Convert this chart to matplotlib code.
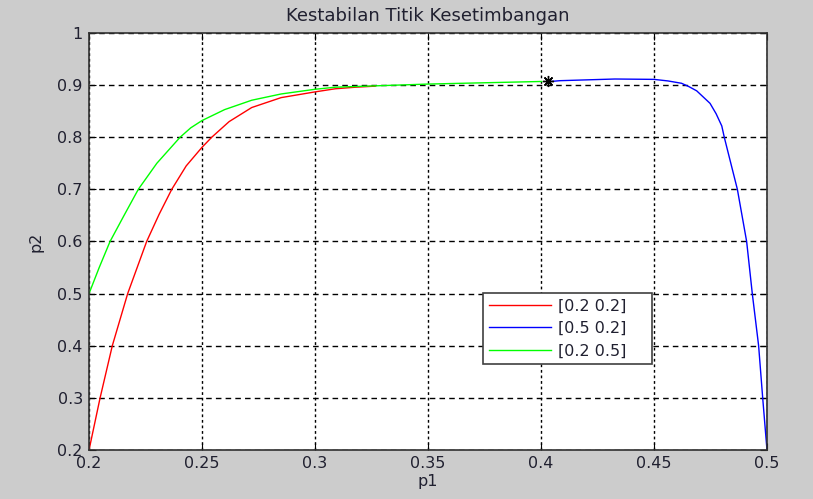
import matplotlib.pyplot as plt

# trajectories
red_p1 = [0.2, 0.2049, 0.2103, 0.2171, 0.2255, 0.231, 0.2366, 0.243, 0.25, 0.2543, 0.262, 0.272, 0.285, 0.3, 0.309, 0.318, 0.3266]
red_p2 = [0.2, 0.3, 0.4, 0.5, 0.6, 0.652, 0.7, 0.745, 0.7807, 0.8, 0.83, 0.857, 0.876, 0.887, 0.893, 0.896, 0.898]

blue_p1 = [0.5, 0.4981, 0.4963, 0.4935, 0.491, 0.4869, 0.4811, 0.48, 0.4775, 0.4748, 0.4689, 0.4655, 0.4622, 0.4562, 0.45, 0.4327, 0.4084, 0.4033]
blue_p2 = [0.2, 0.3, 0.4, 0.5, 0.6, 0.7, 0.8, 0.8216, 0.845, 0.865, 0.889, 0.897, 0.9035, 0.908, 0.911, 0.9117, 0.9085, 0.9066]

green_p1 = [0.2, 0.2045, 0.2093, 0.2155, 0.2218, 0.23, 0.2403, 0.245, 0.25, 0.26, 0.272, 0.285, 0.3, 0.309, 0.35, 0.4003]
green_p2 = [0.5, 0.55, 0.6, 0.65, 0.7, 0.75, 0.8, 0.818, 0.832, 0.853, 0.871, 0.883, 0.892, 0.896, 0.902, 0.907]

eq_p1, eq_p2 = 0.4033, 0.907

legend_labels = ['[0.2 0.2]', '[0.5 0.2]', '[0.2 0.5]']

plt.rcParams['font.family'] = ['DejaVu Sans']
txt = '#202030'

fig = plt.figure(figsize=(8.13, 4.99), dpi=100, facecolor='#cccccc')
ax = fig.add_axes([0.1095, 0.0982, 0.8339, 0.8357])
ax.set_facecolor('white')

ax.plot(red_p1, red_p2, color='#ff0000', lw=1, label=legend_labels[0])
ax.plot(blue_p1, blue_p2, color='#0000ff', lw=1, label=legend_labels[1])
ax.plot(green_p1, green_p2, color='#00ff00', lw=1, label=legend_labels[2])
ax.plot(eq_p1, eq_p2, marker=(8, 2, 0), color='black', ms=8, mew=1, ls='none')

ax.set_xlim(0.2, 0.5)
ax.set_ylim(0.2, 1.0)
ax.set_xticks([0.2, 0.25, 0.3, 0.35, 0.4, 0.45, 0.5])
ax.set_xticklabels(['0.2', '0.25', '0.3', '0.35', '0.4', '0.45', '0.5'])
ax.set_yticks([0.2, 0.3, 0.4, 0.5, 0.6, 0.7, 0.8, 0.9, 1.0])
ax.set_yticklabels(['0.2', '0.3', '0.4', '0.5', '0.6', '0.7', '0.8', '0.9', '1'])
ax.tick_params(direction='in', length=5, top=True, right=True, labelsize=11.5,
               colors='black', labelcolor=txt, pad=4.5)

ax.xaxis.grid(True, color='black', ls=(0, (2, 2)), lw=1)
ax.yaxis.grid(True, color='black', ls=(0, (4, 3)), lw=1)
for s in ax.spines.values():
    s.set_linewidth(1.2)
    s.set_color('#303030')

ax.set_title('Kestabilan Titik Kesetimbangan', fontsize=13, pad=8.6, color=txt)
ax.set_xlabel('p1', fontsize=11.5, labelpad=2, color=txt)
ax.set_ylabel('p2', fontsize=11.5, labelpad=10, color=txt)

leg = ax.legend(loc='lower left', bbox_to_anchor=(0.581, 0.206, 0.249, 0.18),
                mode='expand', fancybox=False, framealpha=1, edgecolor='#404040',
                fontsize=11.5, handlelength=3.9, handletextpad=0.45,
                borderpad=0.35, borderaxespad=0, labelspacing=0.47)
leg.get_frame().set_linewidth(1.2)
for t in leg.get_texts():
    t.set_color(txt)

fig.savefig('out.png', dpi=100, facecolor=fig.get_facecolor())
